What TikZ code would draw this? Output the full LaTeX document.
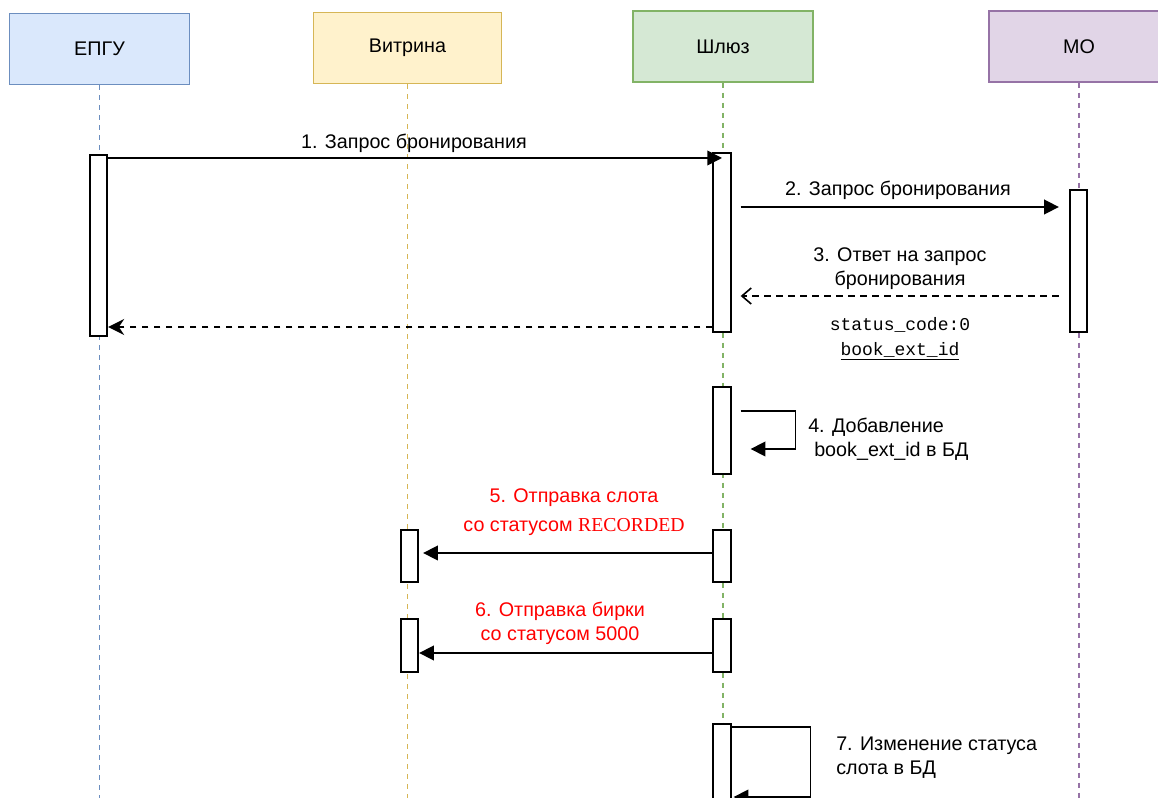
\documentclass[tikz,border=0pt]{standalone}
\usepackage{fontspec}
\setmainfont{Liberation Sans}
\setmonofont{Liberation Mono}
\newfontfamily\recfont{Liberation Serif}
\usetikzlibrary{positioning, arrows.meta}

\definecolor{epguFill}{HTML}{DAE8FC}
\definecolor{epguLine}{HTML}{6C8EBF}
\definecolor{vitrFill}{HTML}{FFF2CC}
\definecolor{vitrLine}{HTML}{D6B656}
\definecolor{gateFill}{HTML}{D5E8D4}
\definecolor{gateLine}{HTML}{82B366}
\definecolor{moFill}{HTML}{E1D5E7}
\definecolor{moLine}{HTML}{9673A6}
\definecolor{msgRed}{HTML}{FF0000}

\begin{document}
\begin{tikzpicture}[x=0.75pt, y=-0.75pt, font=\fontsize{14.8pt}{18pt}\selectfont]
	% styles of the sequence diagram
	\tikzset{
		actor/.style = {
			draw, line width=1.1pt,
			minimum width=135pt, minimum height=53pt
		},
		life/.style = {line width=1.3pt, dash pattern=on 4pt off 3.5pt},
		act/.style = {
			draw, fill=white, line width=1.5pt, anchor=north,
			minimum width=13pt, inner sep=0pt
		},
		msg/.style = {line width=1.2pt, -{Triangle[length=11pt,width=11pt]}},
		reply/.style = {line width=1.2pt, dash pattern=on 5pt off 4pt},
		lbl/.style = {align=center, inner sep=0pt}
	}
	
	\useasboundingbox (0,0) rectangle (1158,798);
	\clip (0,0) rectangle (1158,798);
	
	% participants
	\node[actor, fill=epguFill, draw=epguLine] (epgu) at (99.5,49) {ЕПГУ};
	\node[actor, fill=vitrFill, draw=vitrLine, minimum width=141pt] (vitr) at (407.5,48) {Витрина};
	\node[actor, fill=gateFill, draw=gateLine] (gate) at (723,46.5) {Шлюз};
	\node[actor, fill=moFill, draw=moLine] (mo) at (1079,46.5) {МО};
	
	% lifelines
	\coordinate (bottom) at (0,800);
	\draw[life, epguLine] (epgu.south) -- (epgu.south |- bottom);
	\draw[life, vitrLine] (vitr.south) -- (vitr.south |- bottom);
	\draw[life, gateLine] (gate.south) -- (gate.south |- bottom);
	\draw[life, moLine] (mo.south) -- (mo.south |- bottom);
	
	% activation boxes
	\node[act, minimum height=135.75pt] (e1) at (98.5,154) {};
	\node[act, minimum height=134.25pt] (g1) at (722,152) {};
	\node[act, minimum height=106.5pt] (m1) at (1078.5,189) {};
	\node[act, minimum height=65.25pt] (g2) at (722,386) {};
	\node[act, minimum height=39pt] (g3) at (722,529) {};
	\node[act, minimum height=39pt] (v1) at (409.5,529) {};
	\node[act, minimum height=39.75pt] (g4) at (722,618) {};
	\node[act, minimum height=39.75pt] (v2) at (409.5,618) {};
	\node[act, minimum height=56pt] (g5) at (722,723) {};
	
	% message rows
	\coordinate (y1) at (0,158);
	\coordinate (y2) at (0,207);
	\coordinate (y3) at (0,296);
	\coordinate (yr) at (0,327);
	\coordinate (y4a) at (0,411);
	\coordinate (y4b) at (0,449);
	\coordinate (y5) at (0,553);
	\coordinate (y6) at (0,653);
	\coordinate (y7a) at (0,727);
	\coordinate (y7b) at (0,797);
	
	% 1. request to the gateway
	\draw[msg] (e1.east |- y1) -- (g1.center |- y1);
	\node[lbl] (l1) at (414,143) {1. Запрос бронирования};
	
	% 2. request to MO
	\draw[msg, shorten <=6.75pt, shorten >=7.5pt] (g1.east |- y2) -- (m1.west |- y2);
	\node[lbl] (l2) at (898,190) {2. Запрос бронирования};
	
	% 3. answer of MO
	\draw[reply, -{Straight Barb[length=7pt,width=12pt]}, shorten <=7.5pt, shorten >=6.75pt]
		(m1.west |- y3) -- (g1.east |- y3);
	\node[lbl] (l3) at (900,269) {3. Ответ на запрос\\бронирования};
	\node[lbl, font=\ttfamily\fontsize{13.5pt}{18.75pt}\selectfont] (codes) at (900,339)
		{status\_code:0\\\underline{book\_ext\_id}};
	
	% answer to ЕПГУ
	\draw[reply, -{Stealth[length=12pt,width=12pt,inset=4pt]}] (g1.west |- yr) -- (e1.east |- yr);
	
	% 4. self call
	\draw[msg, shorten <=6.75pt, shorten >=14.25pt] (g2.east |- y4a) -- ++(64,0) |- (g2.east |- y4b);
	\node[lbl, align=left, anchor=west] (l4) at (808,439) {4. Добавление\\\hspace{4.5pt}book\_ext\_id в БД};
	
	% 5. slot to the showcase
	\draw[msg, shorten >=3pt] (g3.west |- y5) -- (v1.east |- y5);
	\node[lbl, text=msgRed] (l5) at (574,512) {5. Отправка слота\\[4pt]со статусом {\recfont RECORDED}};
	
	% 6. tag to the showcase
	\draw[msg] (g4.west |- y6) -- (v2.east |- y6);
	\node[lbl, text=msgRed] (l6) at (560,623) {6. Отправка бирки\\со статусом 5000};
	
	% 7. self call
	\draw[msg, shorten >=1.5pt] (g5.east |- y7a) -- ++(79,0) |- (g5.east |- y7b);
	\node[lbl, align=left, anchor=west] (l7) at (836,758) {7. Изменение статуса\\слота в БД};
\end{tikzpicture}
\end{document}
